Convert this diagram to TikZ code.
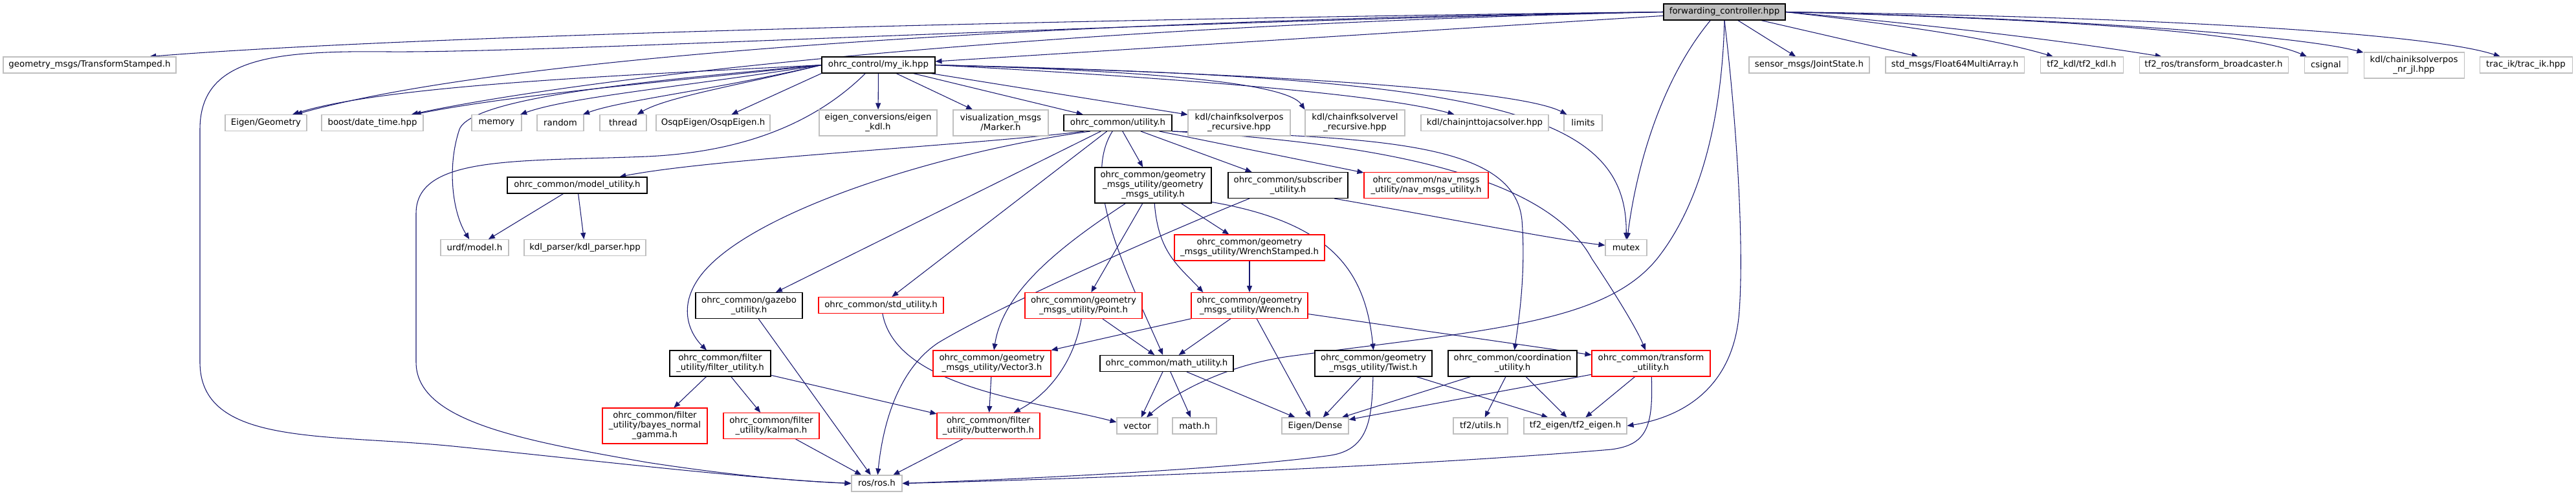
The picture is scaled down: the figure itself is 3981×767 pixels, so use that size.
\documentclass[tikz,border=0pt]{standalone}
\usepackage{fontspec}
\setmainfont{DejaVu Sans}
\usepackage{tikz}
\usetikzlibrary{arrows.meta, backgrounds}
\definecolor{EdgeBlue}{RGB}{25,25,112}
\definecolor{LightGrey}{RGB}{191,191,191}
\definecolor{RootGrey}{RGB}{191,191,191}

\tikzset{
	file/.style={rectangle, line width=0.8pt, fill=white, inner sep=1pt, align=center,
		minimum height=18.75pt, font=\fontsize{10}{11.25}\selectfont},
	rootfile/.style={file, draw=black, fill=RootGrey},
	extfile/.style={file, draw=LightGrey},
	docfile/.style={file, draw=black},
	cutfile/.style={file, draw=red},
	twoline/.style={minimum height=30pt},
	threeline/.style={minimum height=41.25pt},
	bw/.style={minimum width=#1*0.75pt},
	dep/.style={draw=EdgeBlue, line width=0.8pt, -{Triangle[length=7.5pt,width=6pt]}}
}

\begin{document}
\begin{tikzpicture}[x=0.75pt, y=-0.75pt]
		\useasboundingbox (0,0) rectangle (3981,767);

		\node[rootfile, bw=188] (F) at (2665,18.5) {forwarding\_controller.hpp};

		\node[extfile, bw=267] (TS) at (138.5,100.5) {geometry\_msgs/TransformStamped.h};
		\node[docfile, bw=175] (M) at (1357.5,100.5) {ohrc\_control/my\_ik.hpp};
		\node[extfile, bw=186] (JS) at (2796,100.5) {sensor\_msgs/JointState.h};
		\node[extfile, bw=214] (FA) at (3021,100.5) {std\_msgs/Float64MultiArray.h};
		\node[extfile, bw=128] (KDL) at (3217,100.5) {tf2\_kdl/tf2\_kdl.h};
		\node[extfile, bw=230] (BR) at (3421,100.5) {tf2\_ros/transform\_broadcaster.h};
		\node[extfile, bw=67] (CS) at (3594.5,100.5) {csignal};
		\node[extfile, bw=155, twoline] (IKNR) at (3730.5,101) {kdl/chainiksolverpos\\\_nr\_jl.hpp};
		\node[extfile, bw=143] (TIK) at (3903.5,100.5) {trac\_ik/trac\_ik.hpp};

		\node[extfile, bw=126] (EG) at (411,190) {Eigen/Geometry};
		\node[extfile, bw=157] (BD) at (575.5,190) {boost/date\_time.hpp};
		\node[extfile, bw=77] (MEM) at (767.5,190) {memory};
		\node[extfile, bw=72] (RND) at (866,190) {random};
		\node[extfile, bw=72] (THR) at (963,190) {thread};
		\node[extfile, bw=176] (OSQP) at (1102,190) {OsqpEigen/OsqpEigen.h};
		\node[extfile, bw=182, twoline] (EC) at (1357,190) {eigen\_conversions/eigen\\\_kdl.h};
		\node[extfile, bw=147, twoline] (VM) at (1546.5,190) {visualization\_msgs\\/Marker.h};
		\node[docfile, bw=167] (U) at (1727.5,190) {ohrc\_common/utility.h};
		\node[extfile, bw=158, twoline] (FKP) at (1915,190) {kdl/chainfksolverpos\\\_recursive.hpp};
		\node[extfile, bw=154, twoline] (FKV) at (2094,190) {kdl/chainfksolvervel\\\_recursive.hpp};
		\node[extfile, bw=197] (JAC) at (2294.5,190) {kdl/chainjnttojacsolver.hpp};
		\node[extfile, bw=59] (LIM) at (2446.5,190) {limits};

		\node[docfile, bw=216] (MU) at (892,286.5) {ohrc\_common/model\_utility.h};
		\node[docfile, bw=180, threeline] (G) at (1782,286.5) {ohrc\_common/geometry\\\_msgs\_utility/geometry\\\_msgs\_utility.h};
		\node[docfile, bw=185, twoline] (SU) at (1990.5,286.5) {ohrc\_common/subscriber\\\_utility.h};
		\node[cutfile, bw=192, twoline] (NAV) at (2204,286.5) {ohrc\_common/nav\_msgs\\\_utility/nav\_msgs\_utility.h};

		\node[extfile, bw=105] (URDF) at (733.5,383) {urdf/model.h};
		\node[extfile, bw=188] (KP) at (904,383) {kdl\_parser/kdl\_parser.hpp};
		\node[cutfile, bw=232, twoline] (WS) at (1931,383) {ohrc\_common/geometry\\\_msgs\_utility/WrenchStamped.h};
		\node[extfile, bw=64] (MUT) at (2513,383) {mutex};

		\node[docfile, bw=165, twoline] (GZ) at (1157.5,472.5) {ohrc\_common/gazebo\\\_utility.h};
		\node[cutfile, bw=193] (SD) at (1361.5,472) {ohrc\_common/std\_utility.h};
		\node[cutfile, bw=181, twoline] (PT) at (1674.5,472.5) {ohrc\_common/geometry\\\_msgs\_utility/Point.h};
		\node[cutfile, bw=180, twoline] (WR) at (1931,472.5) {ohrc\_common/geometry\\\_msgs\_utility/Wrench.h};

		\node[docfile, bw=156, twoline] (FU) at (1113,562) {ohrc\_common/filter\\\_utility/filter\_utility.h};
		\node[cutfile, bw=182, twoline] (V3) at (1533,562) {ohrc\_common/geometry\\\_msgs\_utility/Vector3.h};
		\node[docfile, bw=206] (MA) at (1803,562) {ohrc\_common/math\_utility.h};
		\node[docfile, bw=181, twoline] (TW) at (2122.5,562) {ohrc\_common/geometry\\\_msgs\_utility/Twist.h};
		\node[docfile, bw=199, twoline] (CO) at (2337.5,562) {ohrc\_common/coordination\\\_utility.h};
		\node[cutfile, bw=183, twoline] (TR) at (2551.5,562) {ohrc\_common/transform\\\_utility.h};

		\node[cutfile, bw=162, threeline] (BNG) at (1012,658.5) {ohrc\_common/filter\\\_utility/bayes\_normal\\\_gamma.h};
		\node[cutfile, bw=148, twoline] (KAL) at (1192,658.5) {ohrc\_common/filter\\\_utility/kalman.h};
		\node[cutfile, bw=159, twoline] (BW) at (1527.5,658.5) {ohrc\_common/filter\\\_utility/butterworth.h};
		\node[extfile, bw=63] (VEC) at (1757.5,658.5) {vector};
		\node[extfile, bw=68] (MH) at (1846,658.5) {math.h};
		\node[extfile, bw=103] (ED) at (2032.5,658.5) {Eigen/Dense};
		\node[extfile, bw=84] (TU) at (2288,658.5) {tf2/utils.h};
		\node[extfile, bw=159] (TE) at (2434.5,658.5) {tf2\_eigen/tf2\_eigen.h};

		\node[extfile, bw=78] (ROS) at (1355,747.5) {ros/ros.h};

		\begin{scope}[on background layer]
		\draw[dep] (F.west) .. controls (1900,26) and (700,50) .. (TS.8);
		\draw[dep] (F) -- (M);
		\draw[dep] (F.west) .. controls (1700,30) and (800,80) .. (EG);
		\draw[dep] (F.west) .. controls (1600,40) and (900,120) .. (BD);
		\draw[dep] (F.west) .. controls (1700,35) and (850,82) .. (600,80) .. controls (420,78) and (309,90) .. (309,200) -- (309,560) .. controls (309,690) and (500,670) .. (700,690) .. controls (900,710) and (1150,740) .. (ROS.west);
		\draw[dep] (F.-149) .. controls (2570,120) and (2530,250) .. (MUT);
		\draw[dep] (F.south) .. controls (2662,150) and (2640,300) .. (2561,400) .. controls (2480,500) and (2300,510) .. (2000,550) .. controls (1880,565) and (1800,620) .. (VEC);
		\draw[dep] (F.south) .. controls (2685,200) and (2695,380) .. (2688,480) .. controls (2680,600) and (2600,645) .. (TE.east);
		\draw[dep] (F) -- (JS);
		\draw[dep] (F) -- (FA);
		\draw[dep] (F.east) .. controls (2950,40) and (3080,60) .. (KDL);
		\draw[dep] (F.east) .. controls (3000,40) and (3190,63) .. (BR);
		\draw[dep] (F.east) .. controls (3200,30) and (3480,50) .. (CS);
		\draw[dep] (F.east) .. controls (3200,28) and (3550,55) .. (IKNR);
		\draw[dep] (F.east) .. controls (3300,25) and (3750,50) .. (TIK);

		\draw[dep] (M.west) .. controls (1000,115) and (600,130) .. (EG);
		\draw[dep] (M.west) .. controls (1050,125) and (800,145) .. (BD);
		\draw[dep] (M.west) .. controls (1050,135) and (880,150) .. (MEM);
		\draw[dep] (M.west) .. controls (1100,140) and (960,155) .. (RND);
		\draw[dep] (M.west) .. controls (1150,130) and (1030,150) .. (THR);
		\draw[dep] (M.south west) -- (OSQP);
		\draw[dep] (M.west) .. controls (1000,125) and (730,150) .. (710,200) .. controls (690,260) and (700,330) .. (URDF);
		\draw[dep] (M.-147) .. controls (1260,190) and (1150,235) .. (1000,242) .. controls (800,250) and (643,240) .. (643,330) -- (643,560) .. controls (643,650) and (800,680) .. (1000,715) .. controls (1150,738) and (1250,745) .. (ROS.west);
		\draw[dep] (M) -- (EC);
		\draw[dep] (M) -- (VM);
		\draw[dep] (M) -- (U);
		\draw[dep] (M) -- (FKP);
		\draw[dep] (M.east) .. controls (1800,110) and (1990,130) .. (FKV.north west);
		\draw[dep] (M.east) .. controls (1900,125) and (2150,150) .. (JAC);
		\draw[dep] (M.east) .. controls (2000,115) and (2350,140) .. (LIM);
		\draw[dep] (M.east) .. controls (2300,120) and (2515,170) .. (MUT);

		\draw[dep] (U.-166) .. controls (1500,225) and (1100,245) .. (MU);
		\draw[dep] (U.-163) .. controls (1450,235) and (1150,330) .. (1080,430) .. controls (1045,480) and (1070,520) .. (FU);
		\draw[dep] (U) -- (GZ);
		\draw[dep] (U) -- (SD);
		\draw[dep] (U) .. controls (1670,280) and (1740,420) .. (MA);
		\draw[dep] (U) -- (G);
		\draw[dep] (U) -- (SU);
		\draw[dep] (U) -- (NAV);
		\draw[dep] (U.south east) .. controls (2150,212) and (2340,225) .. (2352,340) .. controls (2358,420) and (2348,490) .. (CO);
		\draw[dep] (U.south east) .. controls (2200,225) and (2400,290) .. (2460,400) .. controls (2500,460) and (2530,510) .. (TR);

		\draw[dep] (G) -- (WS);
		\draw[dep] (G) -- (PT);
		\draw[dep] (G) .. controls (1640,380) and (1550,450) .. (V3);
		\draw[dep] (G) .. controls (1790,390) and (1820,410) .. (WR.164);
		\draw[dep] (G.-16) .. controls (2060,345) and (2110,420) .. (TW.north);

		\draw[dep] (SU.-16) .. controls (2250,340) and (2400,370) .. (MUT);
		\draw[dep] (SU.-161) .. controls (1800,360) and (1550,470) .. (1450,530) .. controls (1390,570) and (1365,650) .. (ROS);

		\draw[dep] (MU) -- (URDF);
		\draw[dep] (MU) -- (KP);
		\draw[dep] (WS) -- (WR);

		\draw[dep] (WR) -- (V3);
		\draw[dep] (WR) -- (MA);
		\draw[dep] (WR) -- (ED);
		\draw[dep] (WR) -- (TR);
		\draw[dep] (PT) -- (MA);
		\draw[dep] (PT) .. controls (1660,560) and (1620,610) .. (BW);
		\draw[dep] (V3) -- (BW);

		\draw[dep] (MA) -- (VEC);
		\draw[dep] (MA) -- (MH);
		\draw[dep] (MA) -- (ED);

		\draw[dep] (FU) -- (BNG);
		\draw[dep] (FU) -- (KAL);
		\draw[dep] (FU) -- (BW);
		\draw[dep] (GZ) -- (ROS);
		\draw[dep] (KAL) -- (ROS);
		\draw[dep] (BW) -- (ROS);
		\draw[dep] (SD) .. controls (1385,600) and (1600,620) .. (VEC.170);

		\draw[dep] (TW) -- (ED);
		\draw[dep] (TW) -- (TE);
		\draw[dep] (TW) .. controls (2120,650) and (2115,698) .. (2050,705) .. controls (1900,725) and (1600,740) .. (ROS.east);
		\draw[dep] (CO) -- (ED);
		\draw[dep] (CO) -- (TU);
		\draw[dep] (CO) -- (TE);
		\draw[dep] (TR) -- (ED);
		\draw[dep] (TR) -- (TE);
		\draw[dep] (TR) .. controls (2555,660) and (2545,688) .. (2490,695) .. controls (2200,720) and (1700,740) .. (ROS.east);
		\end{scope}
	\end{tikzpicture}
\end{document}
